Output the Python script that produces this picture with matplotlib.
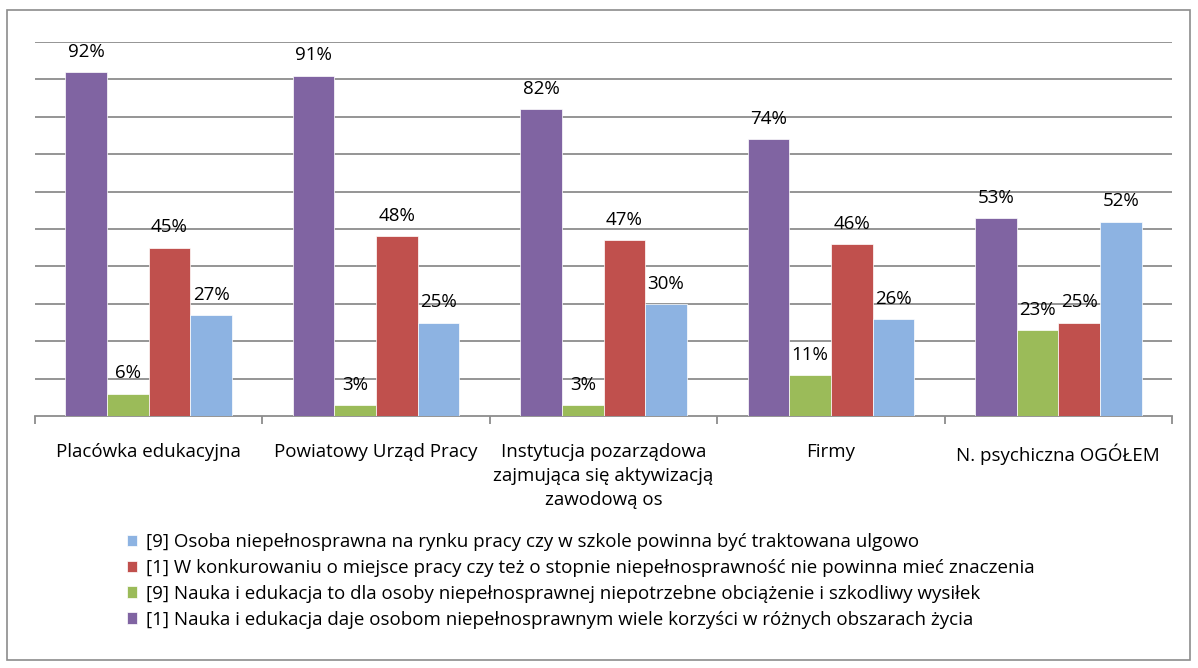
import matplotlib.pyplot as plt
import numpy as np
from matplotlib.patches import Rectangle

plt.rcParams['font.family'] = ['Open Sans', 'DejaVu Sans']

categories = ['Placówka edukacyjna', 'Powiatowy Urząd Pracy',
              'Instytucja pozarządowa\nzajmująca się aktywizacją\nzawodową os',
              'Firmy', 'N. psychiczna OGÓŁEM']
series_names = [
    '[1] Nauka i edukacja daje osobom niepełnosprawnym wiele korzyści w różnych obszarach życia',
    '[9] Nauka i edukacja to dla osoby niepełnosprawnej niepotrzebne obciążenie i szkodliwy wysiłek',
    '[1] W konkurowaniu o miejsce pracy czy też o stopnie niepełnosprawność nie powinna mieć znaczenia',
    '[9] Osoba niepełnosprawna na rynku pracy czy w szkole powinna być traktowana ulgowo',
]
korzysci = [92, 91, 82, 74, 53]
obciazenie = [6, 3, 3, 11, 23]
konkurowanie = [45, 48, 47, 46, 25]
ulgowo = [27, 25, 30, 26, 52]
series = [korzysci, obciazenie, konkurowanie, ulgowo]
colors = ['#8064A2', '#9BBB59', '#C0504D', '#8DB3E2']
fs = 13.5

fig = plt.figure(figsize=(11.98, 6.68), dpi=100)
fig.patches.append(Rectangle((7 / 1198, 8 / 668), 1183 / 1198, 650 / 668,
                             transform=fig.transFigure, fill=False,
                             edgecolor='#8c8c8c', linewidth=1.2))
ax = fig.add_axes([35 / 1198, 252 / 668, 1137 / 1198, 374 / 668])

x = np.arange(len(categories))
w = 0.183
for i, (vals, c, name) in enumerate(zip(series, colors, series_names)):
    pos = x + (i - 1.5) * w
    ax.bar(pos, vals, w, color=c, edgecolor='white', linewidth=0.5,
           label=name, zorder=3)
    for p, v in zip(pos, vals):
        ax.text(p, v + 3.0, f'{v}%', ha='center', va='bottom', fontsize=fs)

ax.set_xlim(-0.5, len(categories) - 0.5)
ax.set_ylim(0, 100)
ax.set_yticks(np.arange(10, 101, 10))
ax.yaxis.grid(True, color='#8c8c8c', linewidth=1.3, zorder=0)
ax.tick_params(axis='y', left=False, labelleft=False)
for s in ['left', 'right', 'top']:
    ax.spines[s].set_visible(False)
ax.spines['bottom'].set_color('#8c8c8c')
ax.spines['bottom'].set_linewidth(1.3)

ax.set_xticks(np.arange(-0.5, len(categories), 1.0))
ax.set_xticklabels([])
ax.tick_params(axis='x', direction='out', length=6, color='#8c8c8c', width=1.3)
for xi, lab in zip(x, categories):
    ax.text(xi, -7.3, lab, ha='center', va='top', fontsize=fs,
            linespacing=1.4, transform=ax.transData)

handles, labels = ax.get_legend_handles_labels()
leg = fig.legend(handles[::-1], labels[::-1], loc='upper left',
                 bbox_to_anchor=(127 / 1198, 1 - 533 / 668), frameon=False,
                 fontsize=fs, handlelength=0.55, handleheight=0.55,
                 handletextpad=0.45, labelspacing=0.42,
                 borderpad=0, borderaxespad=0)

fig.savefig('out.png', dpi=100)
